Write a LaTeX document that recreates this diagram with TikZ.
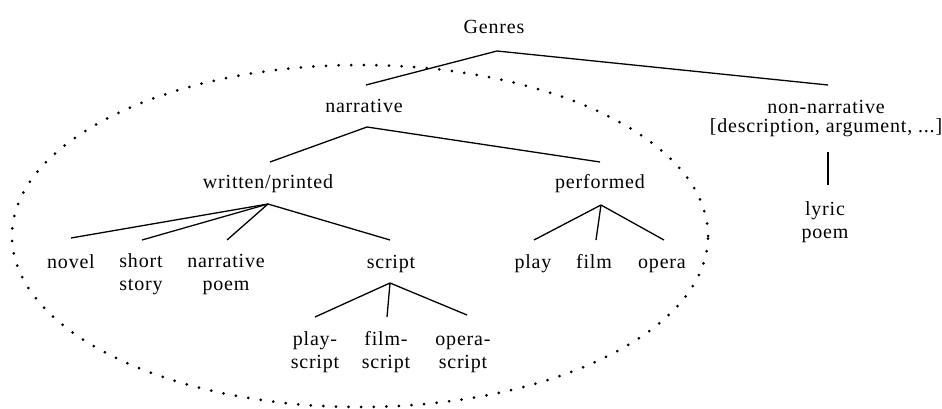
\documentclass[tikz,border=0pt]{standalone}
\usepackage{fontspec}
\setmainfont{Liberation Serif}[LetterSpace=4]
\begin{document}
\begin{tikzpicture}[x=1pt,y=-1pt,
  lbl/.style={inner sep=0pt, anchor=base, align=center, font=\fontsize{20}{23}\selectfont},
  lbltight/.style={lbl, font=\fontsize{20}{20}\selectfont},
  edge/.style={line width=1.3pt},
  dotring/.style={line width=3pt, line cap=round, dash pattern=on 0pt off 12.6pt}]
\useasboundingbox (0,0) rectangle (942,409);
% labels (anchor base = baseline of the last line)
\node[lbl] (genres) at (494,34) {Genres};
\node[lbl] (narr) at (364,113) {narrative};
\node[lbltight] (nonnarr) at (826,133) {non-narrative\\{}[description, argument, ...]};
\node[lbl] (wp) at (268,188) {written/printed};
\node[lbl] (perf) at (600,188) {performed};
\node[lbl] (lyric) at (825,238) {lyric\\poem};
\node[lbl] (novel) at (71,268) {novel};
\node[lbl] (short) at (141,290) {short\\story};
\node[lbl] (npoem) at (226,290) {narrative\\poem};
\node[lbl] (script) at (391,268) {script};
\node[lbl] (play) at (533,268) {play};
\node[lbl] (film) at (594,268) {film};
\node[lbl] (opera) at (662,268) {opera};
\node[lbl] (pscript) at (315,368) {play-\\script};
\node[lbl] (fscript) at (386,368) {film-\\script};
\node[lbl] (oscript) at (463,368) {opera-\\script};
% joints
\coordinate (jG) at (497,51);
\coordinate (jN) at (367,127);
\coordinate (jWP) at (268,204);
\coordinate (jS) at (390,283);
\coordinate (jP) at (601,205);
% connectors
\draw[edge] ([xshift=2pt,yshift=28pt]narr.base) -- (jG) -- ([xshift=2pt,yshift=48pt]nonnarr.base);
\draw[edge] ([xshift=2pt,yshift=26pt]wp.base) -- (jN) -- ([yshift=26pt]perf.base);
\draw[edge] ([xshift=2pt,yshift=-19pt]nonnarr.base) -- ([xshift=3pt,yshift=53pt]lyric.base);
\draw[edge] (jWP) -- ([yshift=30pt]novel.base);
\draw[edge] (jWP) -- ([xshift=1pt,yshift=50pt]short.base);
\draw[edge] (jWP) -- ([xshift=1pt,yshift=50pt]npoem.base);
\draw[edge] (jWP) -- ([xshift=-1pt,yshift=28pt]script.base);
\draw[edge] (jS) -- ([yshift=51pt]pscript.base);
\draw[edge] (jS) -- ([xshift=1pt,yshift=51pt]fscript.base);
\draw[edge] (jS) -- ([xshift=4pt,yshift=53pt]oscript.base);
\draw[edge] (jP) -- ([xshift=1pt,yshift=28pt]play.base);
\draw[edge] (jP) -- ([xshift=2pt,yshift=28pt]film.base);
\draw[edge] (jP) -- ([xshift=2pt,yshift=28pt]opera.base);
% dotted boundary of narrative genres
\draw[dotring] (360,236) ellipse [x radius=348pt, y radius=171pt];
\end{tikzpicture}
\end{document}
